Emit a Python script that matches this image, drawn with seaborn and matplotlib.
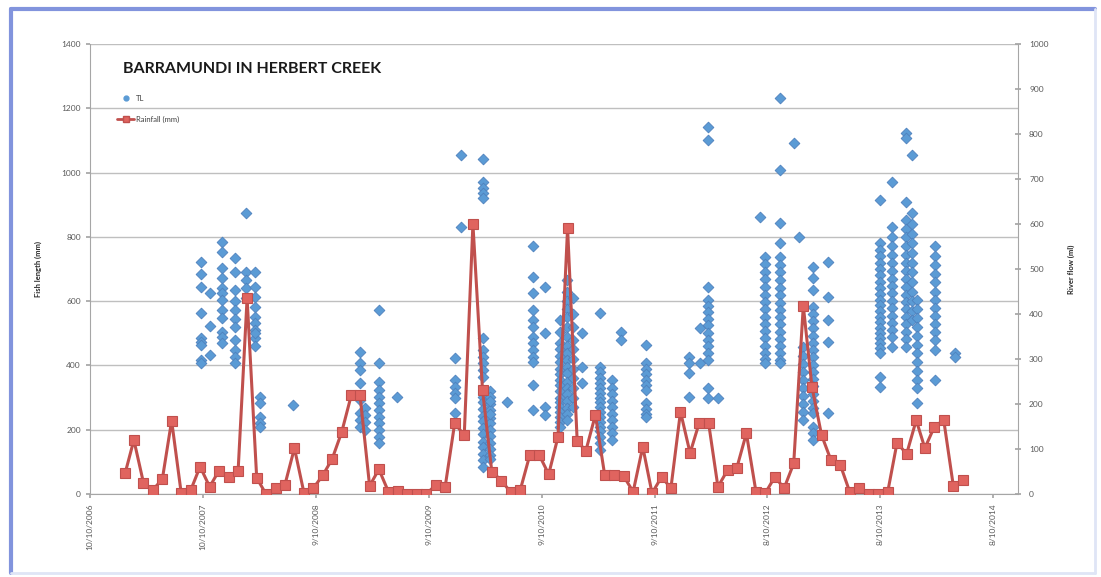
import matplotlib
matplotlib.use("Agg")  # no display in the sandbox
import matplotlib.pyplot as plt
import matplotlib.dates as mdates
from matplotlib.lines import Line2D
import pandas as pd
import seaborn as sns

# ---- data ----
# monthly rainfall (mm), right axis, first month Feb 2007
rain_start = "2007-02-01"
rainfall = [47, 120, 25, 9, 33, 163, 2, 9, 61, 16,
            52, 38, 52, 435, 36, 0, 13, 20, 102, 2,
            13, 42, 78, 138, 220, 220, 18, 55, 5, 7,
            0, 0, 0, 20, 15, 157, 131, 600, 231, 50,
            30, 4, 9, 87, 87, 44, 127, 591, 118, 96,
            176, 42, 42, 40, 5, 105, 2, 38, 13, 183,
            91, 157, 157, 16, 53, 58, 135, 5, 2, 38,
            13, 68, 418, 238, 131, 76, 64, 5, 13, 0,
            0, 5, 114, 89, 164, 102, 150, 164, 18, 31]

# fish total length (mm) per sampling trip
sample_dates = [
    "2007-10-03", "2007-11-02", "2007-12-11", "2008-01-22", "2008-02-26",
    "2008-03-27", "2008-04-12", "2008-07-28", "2009-03-01", "2009-03-17",
    "2009-05-02", "2009-06-29", "2010-01-02", "2010-01-21", "2010-04-03",
    "2010-04-26", "2010-06-20", "2010-09-12", "2010-10-20", "2010-12-08",
    "2010-12-31", "2011-01-19", "2011-02-17", "2011-04-16", "2011-05-25",
    "2011-06-23", "2011-09-12", "2012-01-29", "2012-03-05", "2012-03-31",
    "2012-05-02", "2012-09-15", "2012-10-01", "2012-11-19", "2013-01-03",
    "2013-01-19", "2013-02-01", "2013-03-05", "2013-04-23", "2013-10-08",
    "2013-11-16", "2013-12-31", "2014-01-19", "2014-02-05", "2014-04-04",
    "2014-06-08",
]
tl_values = [
    [723, 684, 643, 562, 484, 474, 463, 417, 407],
    [625, 523, 432],
    [785, 754, 702, 671, 640, 624, 604, 572, 547, 505, 489, 469],
    [733, 690, 635, 600, 572, 545, 520, 479, 448, 427, 407],
    [873, 692, 666, 640, 610],
    [692, 645, 614, 583, 552, 531, 510, 484, 500, 460],
    [303, 282, 240, 220, 209],
    [277],
    [443, 407, 386, 344, 292, 251, 230, 209],
    [267, 246, 225, 199],
    [572, 407, 349, 324, 303, 282, 261, 240, 220, 199, 178, 158],
    [301],
    [422, 355, 334, 313, 298, 251],
    [1055, 830],
    [1041, 972, 951, 935, 920, 484, 448, 427, 407, 386, 365, 303, 285,
     266, 244, 226, 204, 186, 163, 146, 124, 106, 85],
    [320, 302, 281, 262, 238, 221, 198, 182, 158, 141, 120, 110, 290, 250],
    [287],
    [770, 676, 624, 572, 541, 520, 489, 469, 448, 427, 412, 339, 261],
    [645, 500, 272, 246],
    [540, 505, 470, 450, 430, 410, 390, 372, 355, 338, 320, 300, 285,
     270, 255, 240, 225, 210],
    [666, 630, 600, 575, 550, 520, 490, 462, 440, 418, 395, 375, 350,
     330, 310, 290, 268, 250, 230],
    [610, 560, 520, 480, 450, 420, 390, 360, 330, 300, 270],
    [500, 396, 344],
    [562, 396, 380, 362, 345, 330, 315, 300, 285, 270, 255, 240, 225,
     210, 195, 178, 160, 137],
    [355, 330, 310, 290, 270, 250, 230, 210, 190, 168],
    [505, 479],
    [464, 407, 390, 372, 355, 340, 324, 282, 265, 250, 240],
    [427, 407, 376, 303],
    [515, 407],
    [1143, 1101, 645, 604, 585, 566, 545, 525, 500, 480, 460, 438, 417,
     329, 298],
    [298],
    [863],
    [738, 715, 690, 668, 645, 620, 598, 575, 552, 530, 508, 485, 462,
     440, 420, 407],
    [1231, 1008, 842, 780, 738, 712, 690, 665, 640, 618, 595, 572, 550,
     528, 505, 482, 460, 438, 418, 407],
    [1091],
    [801],
    [458, 430, 405, 380, 355, 330, 305, 280, 255, 230],
    [707, 671, 635, 583, 560, 538, 515, 492, 470, 448, 425, 402, 380,
     358, 335, 312, 290, 268, 251, 209, 190, 168],
    [723, 614, 541, 474, 251],
    [915, 780, 760, 740, 718, 700, 680, 660, 640, 622, 605, 588, 570,
     552, 535, 518, 500, 485, 470, 455, 438, 365, 334],
    [972, 832, 800, 770, 745, 720, 695, 670, 648, 625, 600, 578, 555,
     532, 510, 488, 458],
    [1122, 1107, 909, 852, 825, 800, 772, 745, 720, 695, 670, 645, 620,
     598, 575, 552, 530, 505, 482, 458],
    [1055, 873, 840, 810, 780, 750, 720, 690, 660, 630, 600, 570, 540],
    [604, 575, 548, 520, 492, 465, 438, 410, 382, 355, 330, 282],
    [770, 740, 712, 685, 658, 630, 605, 580, 555, 530, 505, 478, 448, 355],
    [438, 427],
]

x_tick_dates = ["2006-10-10", "2007-10-10", "2008-10-09", "2009-10-09",
                "2010-10-09", "2011-10-09", "2012-10-08", "2013-10-08",
                "2014-10-08"]
x_tick_labels = ["10/10/2006", "10/10/2007", "9/10/2008", "9/10/2009",
                 "9/10/2010", "9/10/2011", "8/10/2012", "8/10/2013",
                 "8/10/2014"]
left_ticks = [0, 200, 400, 600, 800, 1000, 1200, 1400]
right_ticks = [0, 100, 200, 300, 400, 500, 600, 700, 800, 900, 1000]

# ---- build tables ----
tl_rows = []
for d, vals in zip(sample_dates, tl_values):
    for v in vals:
        tl_rows.append({"date": pd.Timestamp(d), "TL": v})
df_tl = pd.DataFrame(tl_rows)
df_rain = pd.DataFrame({
    "date": pd.date_range(rain_start, periods=len(rainfall), freq="MS"),
    "rain": rainfall,
})

sns.set_theme(style="white")
plt.rcParams["font.family"] = ["Lato", "DejaVu Sans"]

fig = plt.figure(figsize=(11.01, 5.77), dpi=100)
ax = fig.add_axes([0.0817, 0.1438, 0.8429, 0.78])

# frame around the chart: strong blue on left/top, faint on right/bottom
fig.add_artist(Line2D([0.010, 0.010], [0.007, 0.985], transform=fig.transFigure,
                      color="#8294dd", linewidth=3))
fig.add_artist(Line2D([0.010, 0.995], [0.985, 0.985], transform=fig.transFigure,
                      color="#8294dd", linewidth=3))
fig.add_artist(Line2D([0.995, 0.995], [0.007, 0.985], transform=fig.transFigure,
                      color="#dfe5f6", linewidth=2))
fig.add_artist(Line2D([0.010, 0.995], [0.007, 0.007], transform=fig.transFigure,
                      color="#dfe5f6", linewidth=2))

blue = "#5b9bd5"
red = "#c0504d"

sns.scatterplot(data=df_tl, x="date", y="TL", ax=ax, marker="D", s=30,
                color=blue, edgecolor="#4f81bd", linewidth=0.6, legend=False, zorder=3)
ax.set_ylim(0, 1400)
ax.set_yticks(left_ticks)
ax.set_xlim(pd.Timestamp("2006-10-10"), pd.Timestamp("2014-12-27"))
ax.set_xticks([mdates.date2num(pd.Timestamp(d)) for d in x_tick_dates])
ax.set_xticklabels(x_tick_labels, rotation=90, fontsize=6, color="#595959")
ax.tick_params(axis="y", labelsize=6, labelcolor="#595959", length=3,
               color="#a6a6a6", left=True, direction="out")
ax.tick_params(axis="x", length=3, color="#a6a6a6", bottom=True, direction="out")
ax.yaxis.grid(True, color="#bfbfbf", linewidth=1)
ax.set_axisbelow(True)
for side in ["top", "right"]:
    ax.spines[side].set_visible(False)
for side in ["left", "bottom"]:
    ax.spines[side].set_color("#a6a6a6")
    ax.spines[side].set_linewidth(0.8)
ax.set_xlabel("")
ax.set_ylabel("Fish length (mm)", fontsize=5.5, fontweight="bold", labelpad=14)

# rainfall on the secondary axis
ax2 = ax.twinx()
sns.lineplot(data=df_rain, x="date", y="rain", ax=ax2, color=red, linewidth=2.2,
             marker="s", markersize=7, markerfacecolor="#e0645f",
             markeredgecolor=red, markeredgewidth=0.8, legend=False)
ax2.set_ylim(0, 1000)
ax2.set_yticks(right_ticks)
ax2.tick_params(axis="y", labelsize=6, labelcolor="#595959", length=4, pad=6,
                color="#a6a6a6", right=True, direction="inout")
for side in ["top", "left", "bottom"]:
    ax2.spines[side].set_visible(False)
ax2.spines["right"].set_color("#a6a6a6")
ax2.spines["right"].set_linewidth(0.8)
ax2.set_ylabel("River flow (ml)", fontsize=5.5, fontweight="bold", labelpad=14)
ax2.set_xlabel("")

ax.text(0.036, 0.945, "BARRAMUNDI IN HERBERT CREEK", transform=ax.transAxes,
        fontsize=11.5, fontweight="bold", color="#1a1a1a", va="center", ha="left")

handles = [
    Line2D([], [], linestyle="none", marker="o", markersize=3.5,
           markerfacecolor=blue, markeredgecolor=blue),
    Line2D([], [], color=red, linewidth=2, marker="s", markersize=5,
           markerfacecolor="#e0645f", markeredgecolor=red),
]
ax.legend(handles, ["TL", "Rainfall (mm)"], loc="upper left",
          bbox_to_anchor=(0.022, 0.902), frameon=False, fontsize=5.5,
          handlelength=2.2, labelspacing=1.8, handletextpad=0.3,
          labelcolor="#404040")

fig.savefig("out.png", dpi=100)
plt.close(fig)
